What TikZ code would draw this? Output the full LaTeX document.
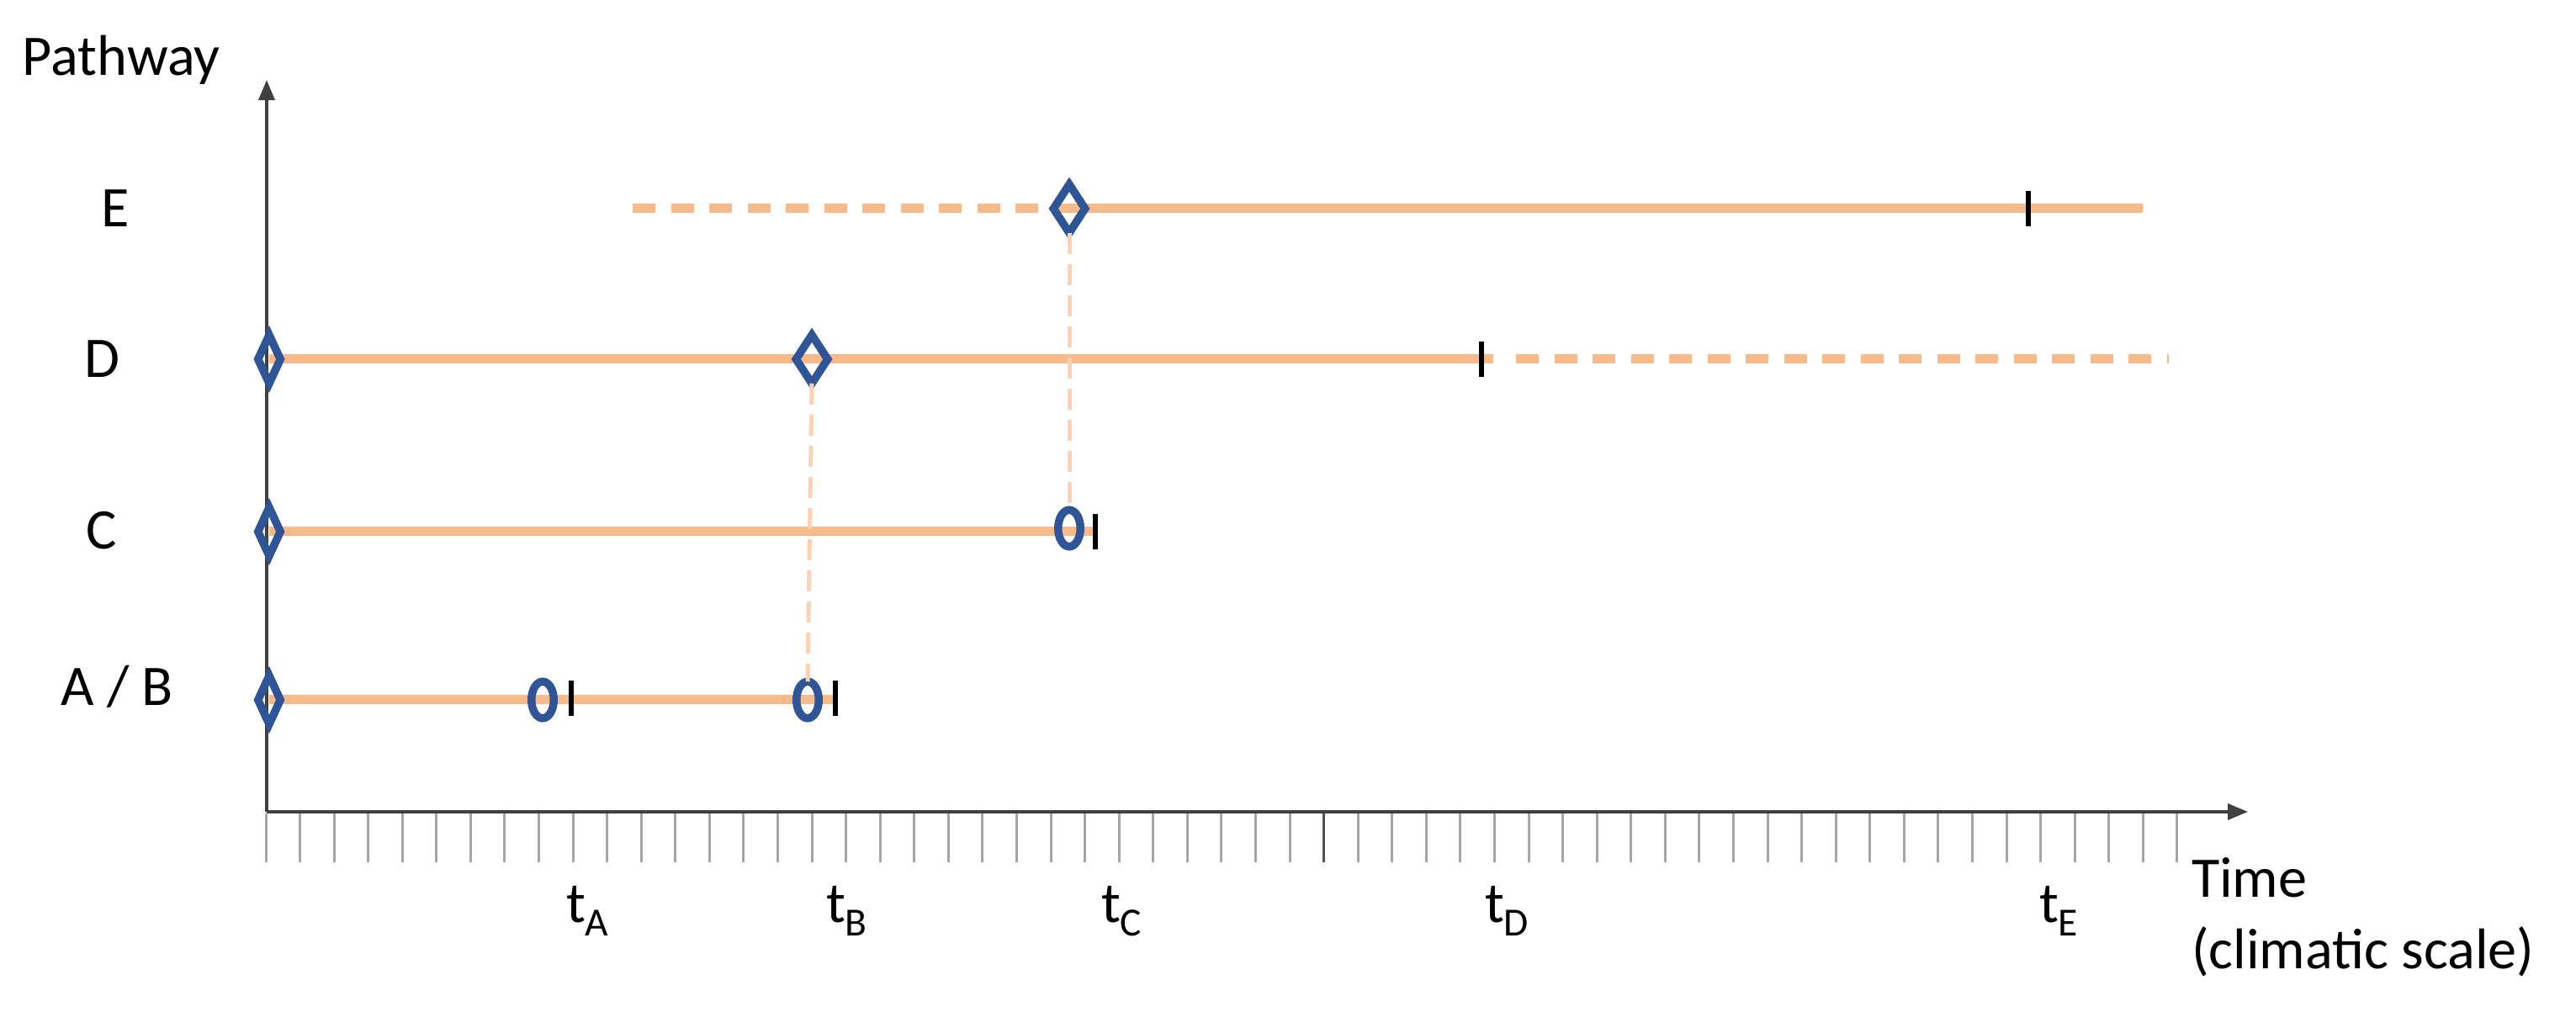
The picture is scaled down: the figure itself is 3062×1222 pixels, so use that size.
\documentclass[tikz,border=0pt]{standalone}
\usepackage{fontspec}
\setmainfont{Carlito}
\usetikzlibrary{arrows.meta,shapes.geometric}
\definecolor{pathorange}{HTML}{F8B98B}
\definecolor{linkorange}{HTML}{FBD2B3}
\definecolor{markblue}{HTML}{2F5597}
\definecolor{axisgray}{HTML}{404040}
\definecolor{tickgray}{HTML}{A6A6A6}
\newcommand\tsub[1]{\raisebox{-0.15cm}{\fontsize{13.5}{14}\selectfont #1}}
\tikzset{
  pathline/.style={draw=pathorange, line width=0.11cm},
  pathdash/.style={pathline, dash pattern=on 0.27cm off 0.185cm},
  linkdash/.style={draw=linkorange, line width=0.05cm, dash pattern=on 0.25cm off 0.12cm},
  switchmark/.style={diamond, draw=markblue, line width=0.095cm, minimum width=0.375cm, minimum height=0.575cm, inner sep=0pt, outer sep=0pt},
  switchnarrow/.style={switchmark, minimum width=0.265cm},
  endmark/.style={ellipse, draw=markblue, line width=0.095cm, minimum width=0.265cm, minimum height=0.435cm, inner sep=0pt, outer sep=0pt},
  tipbar/.style={rectangle, fill=black, minimum width=0.055cm, minimum height=0.42cm, inner sep=0pt, outer sep=0pt},
  lbl/.style={inner sep=0pt, outer sep=0pt, font=\fontsize{19.4}{23}\selectfont},
  axisline/.style={draw=axisgray, line width=0.035cm},
  tickline/.style={draw=tickgray, line width=0.03cm}
}
\begin{document}
\begin{tikzpicture}[x=0.01cm,y=-0.01cm]
\useasboundingbox (0,0) rectangle (3062,1222);
% ticks
\foreach \i in {0,...,56} {
  \draw[tickline] ({316+40.57*\i},967) -- ({316+40.57*\i},1025);
}
\draw[draw=axisgray!90, line width=0.03cm] ({316+40.57*31},967) -- ({316+40.57*31},1025);
% axes
\coordinate (O) at (317,965);
\coordinate (Ytip) at (317,95);
\coordinate (Xtip) at (2672,965);
\draw[axisline, -{Triangle[length=0.24cm,width=0.19cm]}] (O) -- (Ytip);
\draw[axisline, -{Triangle[length=0.24cm,width=0.19cm]}] (O) -- (Xtip);

% line end coordinates
\coordinate (Estart) at (752,248);
\coordinate (Eend) at (2547,248);
\coordinate (Dsolid) at (1775,427);
\coordinate (Ddash) at (1802,427);
\coordinate (Dend) at (2578,427);
\coordinate (Cend) at (1300,632);
\coordinate (ABend) at (992,832);

% marker positions
\path (1271,248) coordinate (E1c);
\path (320,427) coordinate (D0c);
\path (965,427) coordinate (D1c);
\path (320,632) coordinate (C0c);
\path (1271,628) coordinate (C1c);
\path (320,832) coordinate (AB0c);
\path (645,832) coordinate (AB1c);
\path (960,832) coordinate (AB2c);

% orange pathway lines
\draw[pathdash] (Estart) -- (E1c);
\draw[pathline] (E1c) -- (Eend);
\draw[pathline] (D0c) -- (Dsolid);
\draw[pathdash] (Ddash) -- (Dend);
\draw[pathline] (C0c) -- (Cend);
\draw[pathline] (AB0c) -- (ABend);

% markers
\node[switchmark] (E1) at (E1c) {};
\node[switchnarrow] (D0) at (D0c) {};
\node[switchmark] (D1) at (D1c) {};
\node[switchnarrow] (C0) at (C0c) {};
\node[endmark] (C1) at (C1c) {};
\node[switchnarrow] (AB0) at (AB0c) {};
\node[endmark] (AB1) at (AB1c) {};
\node[endmark] (AB2) at (AB2c) {};

% transfer links
\draw[linkdash] (D1.south) -- (AB2.north);
\draw[linkdash] (E1.south) -- (C1.north);

% tipping bars
\node[tipbar] (Ebar) at (2411,248) {};
\node[tipbar] (Dbar) at (1761,427) {};
\node[tipbar] (Cbar) at (1302,632) {};
\node[tipbar] (AB1bar) at (679,830) {};
\node[tipbar] (AB2bar) at (993,830) {};

% labels
\node[lbl, anchor=base west] (ylab) at (27,90) {Pathway};
\node[lbl, anchor=base] (labE) at (137,270) {E};
\node[lbl, anchor=base] (labD) at (121,449) {D};
\node[lbl, anchor=base] (labC) at (121,653) {C};
\node[lbl, anchor=base] (labAB) at (139,839) {A / B};
\node[lbl, anchor=base west] (tA) at (673,1097) {t\tsub{A}};
\node[lbl, anchor=base west] (tB) at (982,1097) {t\tsub{B}};
\node[lbl, anchor=base west] (tC) at (1309,1097) {t\tsub{C}};
\node[lbl, anchor=base west] (tD) at (1765,1097) {t\tsub{D}};
\node[lbl, anchor=base west] (tE) at (2424,1097) {t\tsub{E}};
\node[lbl, anchor=base west] (xlab1) at (2605,1067) {Time};
\node[lbl, anchor=base west] (xlab2) at (2605,1152) {(climatic scale)};
\end{tikzpicture}
\end{document}
